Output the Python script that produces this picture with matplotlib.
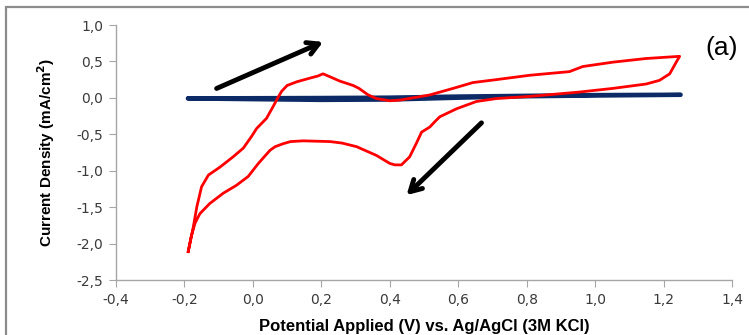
import numpy as np
import matplotlib
matplotlib.use("Agg")
import matplotlib.pyplot as plt
from matplotlib.patches import Rectangle
from matplotlib.ticker import FuncFormatter

# CV loop, red curve (V, mA/cm2)
red_x = [-0.189, -0.174, -0.164, -0.150, -0.130, -0.096, -0.058, -0.028, -0.004,
         0.011, 0.040, 0.059, 0.074, 0.084, 0.100, 0.128, 0.166, 0.190, 0.205, 0.225, 0.254,
         0.293, 0.310, 0.325, 0.337, 0.361, 0.400, 0.430, 0.517, 0.585, 0.643, 0.711,
         0.809, 0.925, 0.964, 1.052, 1.149, 1.247,
         1.237, 1.218, 1.188, 1.149, 1.052, 0.955, 0.809, 0.711, 0.653, 0.595,
         0.546, 0.531, 0.517, 0.493, 0.477, 0.458, 0.434, 0.415, 0.400, 0.361,
         0.303, 0.260, 0.225, 0.147, 0.110, 0.088, 0.065, 0.050, 0.016, -0.014, -0.048, -0.087,
         -0.126, -0.155, -0.169, -0.180, -0.189]
red_y = [-2.11, -1.77, -1.50, -1.22, -1.06, -0.95, -0.81, -0.69, -0.53,
         -0.42, -0.28, -0.12, 0.01, 0.09, 0.17, 0.22, 0.27, 0.30, 0.33, 0.29, 0.23,
         0.17, 0.13, 0.08, 0.04, -0.01, -0.04, -0.03, 0.04, 0.13, 0.21, 0.25,
         0.31, 0.36, 0.43, 0.49, 0.54, 0.57,
         0.49, 0.33, 0.24, 0.19, 0.13, 0.08, 0.02, -0.01, -0.05, -0.15,
         -0.26, -0.33, -0.40, -0.47, -0.63, -0.81, -0.92, -0.92, -0.90, -0.79,
         -0.67, -0.62, -0.60, -0.59, -0.60, -0.63, -0.67, -0.72, -0.90, -1.08, -1.20, -1.31,
         -1.45, -1.59, -1.72, -1.90, -2.11]

# blank loop, blue
blue_x = [-0.19, 0.2, 0.4, 0.6, 0.8, 1.0, 1.25, 1.25, 1.0, 0.8, 0.6, 0.4, 0.2, 0.0, -0.19]
blue_y = [-0.005, 0.0, 0.005, 0.02, 0.03, 0.04, 0.045, 0.04, 0.03, 0.02, 0.0, -0.025, -0.03, -0.02, -0.01]

# scan direction arrows (tail, tip)
arrows = [((-0.106, 0.129), (0.205, 0.768)),
          ((0.668, -0.343), (0.449, -1.335))]

fig = plt.figure(figsize=(7.49, 3.35), dpi=100)
fig.patches.append(Rectangle((5.5 / 749, -0.1), 1.2, 1 - 7 / 335 + 0.1,
                             transform=fig.transFigure, fill=False,
                             edgecolor="#8c8c8c", linewidth=1.6, zorder=0))

ax = fig.add_axes([116 / 749, 55 / 335, 616 / 749, 255 / 335])

ax.plot(blue_x, blue_y, color="#0b2a66", linewidth=3.0, solid_capstyle="round", zorder=2)
ax.plot(red_x, red_y, color="#ff0000", linewidth=2.0, zorder=3, solid_joinstyle="round")

for (tx, ty), (hx, hy) in arrows:
    ax.annotate("", xy=(hx, hy), xytext=(tx, ty),
                arrowprops=dict(arrowstyle="->,head_length=0.8,head_width=0.45",
                                color="black", lw=3.5, shrinkA=0, shrinkB=0))

ax.set_xlim(-0.4, 1.4)
ax.set_ylim(-2.5, 1.0)
ax.set_xticks(np.arange(-0.4, 1.41, 0.2))
ax.set_yticks(np.arange(-2.5, 1.01, 0.5))
comma = FuncFormatter(lambda v, p: f"{v:.1f}".replace(".", ",").replace("-0,0", "0,0"))
ax.xaxis.set_major_formatter(comma)
ax.yaxis.set_major_formatter(comma)

for s in ["top", "right"]:
    ax.spines[s].set_visible(False)
for s in ["left", "bottom"]:
    ax.spines[s].set_color("#a6a6a6")
    ax.spines[s].set_linewidth(1.0)
ax.tick_params(direction="out", length=5, color="#a6a6a6", labelcolor="#3a3a3a",
               labelsize=10, pad=4)

ax.set_xlabel("Potential Applied (V) vs. Ag/AgCl (3M KCl)", family="Liberation Sans",
              fontweight="bold", fontsize=12, labelpad=9)
ax.set_ylabel("Current Density (mA/cm$^\\mathbf{2}$)", family="Liberation Sans",
              fontweight="bold", fontsize=11, labelpad=14)

fig.text(722 / 749, 1 - 48 / 335, "(a)", family="Liberation Sans", fontsize=19,
         ha="center", va="center")

fig.savefig("out.png", dpi=100)
